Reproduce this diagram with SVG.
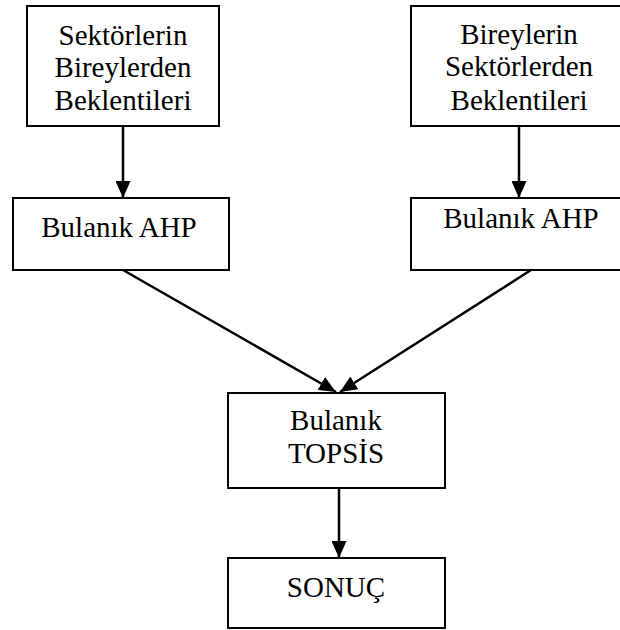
<svg xmlns="http://www.w3.org/2000/svg" width="620" height="630" viewBox="0 0 620 630">
<style>
.box{fill:#fff;stroke:#000;stroke-width:2}
.t{font-family:"Liberation Serif","Times New Roman",serif;font-size:29px;fill:#000;text-anchor:middle}
.c{stroke:#000;stroke-width:2.5;fill:none;marker-end:url(#ah)}
</style>
<defs>
<marker id="ah" markerUnits="userSpaceOnUse" markerWidth="17" markerHeight="15" refX="17" refY="7.5" orient="auto">
<path d="M0,0 L17,7.5 L0,15 Z" fill="#000"/>
</marker>
</defs>
<rect width="620" height="630" fill="#fff"/>
<g id="connectors">
<line class="c" x1="123" y1="126" x2="123" y2="198"/>
<line class="c" x1="519" y1="126" x2="519" y2="198"/>
<line class="c" x1="123" y1="270" x2="336" y2="392"/>
<line class="c" x1="531" y1="270" x2="340" y2="392"/>
<line class="c" x1="339" y1="488" x2="339" y2="558"/>
</g>
<g id="n1">
<rect class="box" x="27" y="6" width="192" height="120"/>
<text class="t" x="123" y="45">Sektörlerin</text>
<text class="t" x="123" y="77">Bireylerden</text>
<text class="t" x="123" y="110">Beklentileri</text>
</g>
<g id="n2">
<rect class="box" x="411" y="6" width="216" height="120"/>
<text class="t" x="519" y="44">Bireylerin</text>
<text class="t" x="519" y="76">Sektörlerden</text>
<text class="t" x="519" y="110">Beklentileri</text>
</g>
<g id="n3">
<rect class="box" x="13" y="198" width="216" height="72"/>
<text class="t" x="119" y="237">Bulanık AHP</text>
</g>
<g id="n4">
<rect class="box" x="411" y="198" width="216" height="72"/>
<text class="t" x="521" y="228">Bulanık AHP</text>
</g>
<g id="n5">
<rect class="box" x="228" y="393" width="217" height="95"/>
<text class="t" x="336" y="430">Bulanık</text>
<text class="t" x="336" y="463">TOPSİS</text>
</g>
<g id="n6">
<rect class="box" x="228" y="558" width="217" height="70"/>
<text class="t" x="336" y="597">SONUÇ</text>
</g>
</svg>
